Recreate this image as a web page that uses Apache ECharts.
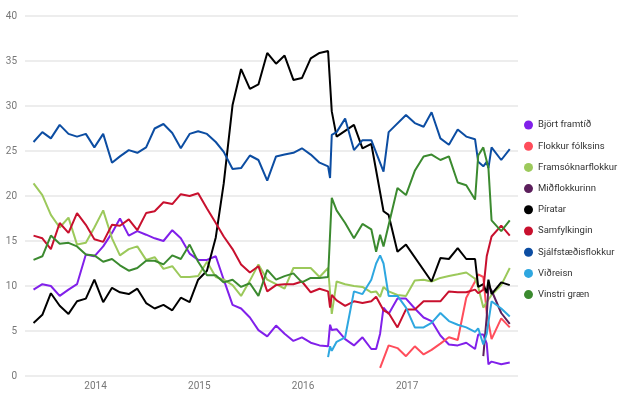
<!DOCTYPE html>
<html>
<head>
<meta charset="utf-8">
<script src="https://cdn.jsdelivr.net/npm/echarts@6.0.0/dist/echarts.min.js"></script>
<style>
  html, body { margin: 0; padding: 0; background: #fff; }
  #main { width: 620px; height: 399px; }
</style>
</head>
<body>
<div id="main"></div>
<script>
// poll dates (x axis)
var dates = [
  '2013-05-28','2013-06-28','2013-07-28','2013-08-28','2013-09-28','2013-10-28','2013-11-28','2013-12-28',
  '2014-01-28','2014-02-28','2014-03-28','2014-04-28','2014-05-28','2014-06-28','2014-07-28','2014-08-28',
  '2014-09-28','2014-10-28','2014-11-28','2014-12-28','2015-01-28','2015-02-28','2015-03-28','2015-04-28',
  '2015-05-28','2015-06-28','2015-07-28','2015-08-28','2015-09-28','2015-10-28','2015-11-28','2015-12-28',
  '2016-01-28','2016-02-28','2016-03-29','2016-04-05','2016-04-11','2016-04-28','2016-05-28','2016-06-28',
  '2016-07-28','2016-08-28','2016-09-14','2016-09-28','2016-10-10','2016-10-28','2016-11-28','2016-12-28',
  '2017-01-28','2017-02-28','2017-03-28','2017-04-28','2017-05-28','2017-06-28','2017-07-28','2017-08-28',
  '2017-09-08','2017-09-26','2017-10-08','2017-10-14','2017-10-25','2017-11-28','2017-12-28'
];

var bjort = [9.6,10.2,10.0,8.9,9.6,10.2,13.5,13.3, 14.4,15.9,17.5,15.6,16.1,15.7,15.3,15.0,
  16.2,15.3,13.6,12.9,12.9,13.3,10.7,7.9, 7.5,6.5,5.1,4.4,5.6,4.7,3.9,4.3,
  3.7,3.4,3.3,5.7,5.1,5.2,4.1,3.4, 4.3,3.0,3.0,4.7,7.6,6.9,8.6,8.6,
  7.5,6.5,6.1,4.5,3.5,3.4,3.7,3.0, 4.6,4.6,3.6,1.3,1.6,1.3,1.5];
var flokkur = [null,null,null,null,null,null,null,null, null,null,null,null,null,null,null,null,
  null,null,null,null,null,null,null,null, null,null,null,null,null,null,null,null,
  null,null,null,null,null,null,null,null, null,null,null,0.9,null,3.4,3.1,2.2,
  3.3,2.4,2.9,3.6,4.3,4.0,8.7,10.5, 11.3,11.0,7.0,null,4.1,6.4,5.4];
var framsokn = [21.4,20.1,17.9,16.5,17.6,14.6,14.8,16.5, 18.4,15.3,13.4,14.1,14.4,12.9,13.2,11.9,
  12.2,11.0,11.0,11.1,12.7,11.0,10.7,10.1, 8.9,10.6,12.4,10.7,10.2,9.7,12.0,12.0,
  12.0,11.0,12.0,null,6.9,10.5,10.2,10.0, 9.9,9.3,9.4,8.8,9.9,9.4,9.0,8.9,
  10.6,10.7,10.5,10.9,11.1,11.3,11.5,10.8, 9.9,7.6,8.2,8.5,9.0,10.1,12.0];
var midflokkur = [null,null,null,null,null,null,null,null, null,null,null,null,null,null,null,null,
  null,null,null,null,null,null,null,null, null,null,null,null,null,null,null,null,
  null,null,null,null,null,null,null,null, null,null,null,null,null,null,null,null,
  null,null,null,null,null,null,null,null, null,2.2,6.6,10.0,9.5,7.0,5.8];
var piratar = [5.9,6.8,9.2,7.8,6.9,8.3,8.6,10.7, 8.2,9.8,9.3,9.1,9.7,8.1,7.5,7.9,
  7.3,8.7,8.2,10.7,11.7,15.4,21.4,30.1, 34.1,31.9,32.4,35.9,34.7,35.6,32.9,33.1,
  35.3,35.9,36.1,null,29.4,26.6,null,27.9, 25.3,25.8,null,null,18.3,17.9,13.8,14.6,
  null,null,10.5,13.1,13.0,14.2,13.0,13.0, 9.9,10.2,9.2,10.7,9.1,10.4,10.1];
var samfylking = [15.6,15.3,14.1,17.0,15.9,18.1,16.8,15.2, 14.9,16.8,16.7,17.4,16.2,18.1,18.3,19.3,
  19.1,20.2,20.0,20.3,18.6,17.0,15.5,14.1, 12.4,11.5,12.2,9.4,10.1,10.2,10.2,10.5,
  9.3,9.7,9.4,7.6,9.0,8.4,7.8,8.3, 8.1,8.3,8.8,null,7.3,7.0,5.4,7.4,
  7.4,8.3,8.3,8.3,9.4,9.3,9.3,9.6, 9.2,9.6,13.3,13.4,15.5,16.7,15.6];
var sjalfstaedis = [26.0,27.1,26.4,27.9,26.9,26.6,26.9,25.4, 26.9,23.7,24.4,25.1,24.8,25.4,27.5,28.0,
  27.0,25.3,26.9,27.2,26.9,26.0,24.9,23.0, 23.1,24.5,24.0,21.7,24.4,24.6,24.8,25.3,
  24.6,23.7,23.3,22.0,26.8,27.1,28.6,25.1, 26.2,26.2,null,null,22.7,27.1,null,29.0,
  28.1,27.7,29.3,26.4,25.7,27.4,26.6,26.3, 23.8,23.3,23.8,23.1,25.4,24.0,25.2];
var vidreisn = [null,null,null,null,null,null,null,null, null,null,null,null,null,null,null,null,
  null,null,null,null,null,null,null,null, null,null,null,null,null,null,null,null,
  null,null,2.1,3.3,2.8,3.8,4.3,9.4, 9.1,10.7,12.5,13.4,12.5,8.9,8.9,7.6,
  5.4,5.4,5.9,7.0,6.1,5.7,5.4,4.9, 5.3,3.5,4.7,6.0,8.3,7.5,6.6];
var vinstri = [12.9,13.3,15.6,14.7,14.8,14.4,13.5,13.4, 12.7,13.0,12.3,11.7,12.0,12.8,12.8,12.4,
  13.4,13.0,14.6,12.7,11.2,11.2,10.4,10.7, 9.9,10.3,8.9,11.8,10.7,11.1,11.4,10.4,
  10.9,10.9,11.0,null,19.8,18.4,17.0,15.3, 16.9,16.3,13.8,15.7,14.4,null,20.9,20.1,
  22.8,24.4,24.6,24.0,24.4,21.5,21.2,19.6, 24.5,25.4,null,23.1,17.3,16.1,17.3];

var names = ['Björt framtíð','Flokkur fólksins','Framsóknarflokkur','Miðflokkurinn','Píratar',
  'Samfylkingin','Sjálfstæðisflokkur','Viðreisn','Vinstri græn'];
var values = [bjort, flokkur, framsokn, midflokkur, piratar, samfylking, sjalfstaedis, vidreisn, vinstri];
var colors = ['#8120ea','#ff4d5b','#9cc95b','#5c1f5c','#000000','#c8102e','#0c4da2','#2ea7e0','#3b8a2f'];
var yearLabels = ['2014-01-01','2015-01-01','2016-01-01','2017-01-01'];

function ts(d) {
  return Date.parse(d + 'T00:00:00Z');
}

function pairs(arr) {
  var out = [];
  for (var i = 0; i < dates.length; i++) {
    if (arr[i] !== null) out.push([ts(dates[i]), arr[i]]);
  }
  return out;
}

var myChart = echarts.init(document.getElementById('main'));

var option = {
  animation: false,
  color: colors,
  textStyle: { fontFamily: 'Roboto, sans-serif' },
  grid: { left: 25, right: 102, top: 16, bottom: 23 },
  legend: {
    orient: 'vertical',
    left: 524,
    top: 120,
    padding: 0,
    icon: 'circle',
    itemWidth: 9,
    itemHeight: 9,
    itemGap: 11.2,
    data: names,
    textStyle: { fontSize: 9.5, color: '#333' }
  },
  xAxis: {
    type: 'value',
    min: ts('2013-04-28'),
    max: ts('2018-01-26'),
    axisLine: { show: false },
    axisTick: { show: false },
    splitLine: { show: false },
    axisLabel: {
      customValues: yearLabels.map(ts),
      formatter: function (v) { return String(new Date(v).getUTCFullYear()); },
      color: '#777',
      fontSize: 10,
      margin: 5
    }
  },
  yAxis: {
    type: 'value',
    min: 0,
    max: 40,
    interval: 5,
    axisLine: { show: false },
    axisTick: { show: false },
    axisLabel: { color: '#777', fontSize: 10, margin: 8 },
    splitLine: { lineStyle: { color: '#ededed', width: 2 } }
  },
  series: names.map(function (n, i) {
    return {
      name: n,
      type: 'line',
      showSymbol: false,
      lineStyle: { width: 2 },
      data: pairs(values[i])
    };
  })
};

myChart.setOption(option);
</script>
</body>
</html>
